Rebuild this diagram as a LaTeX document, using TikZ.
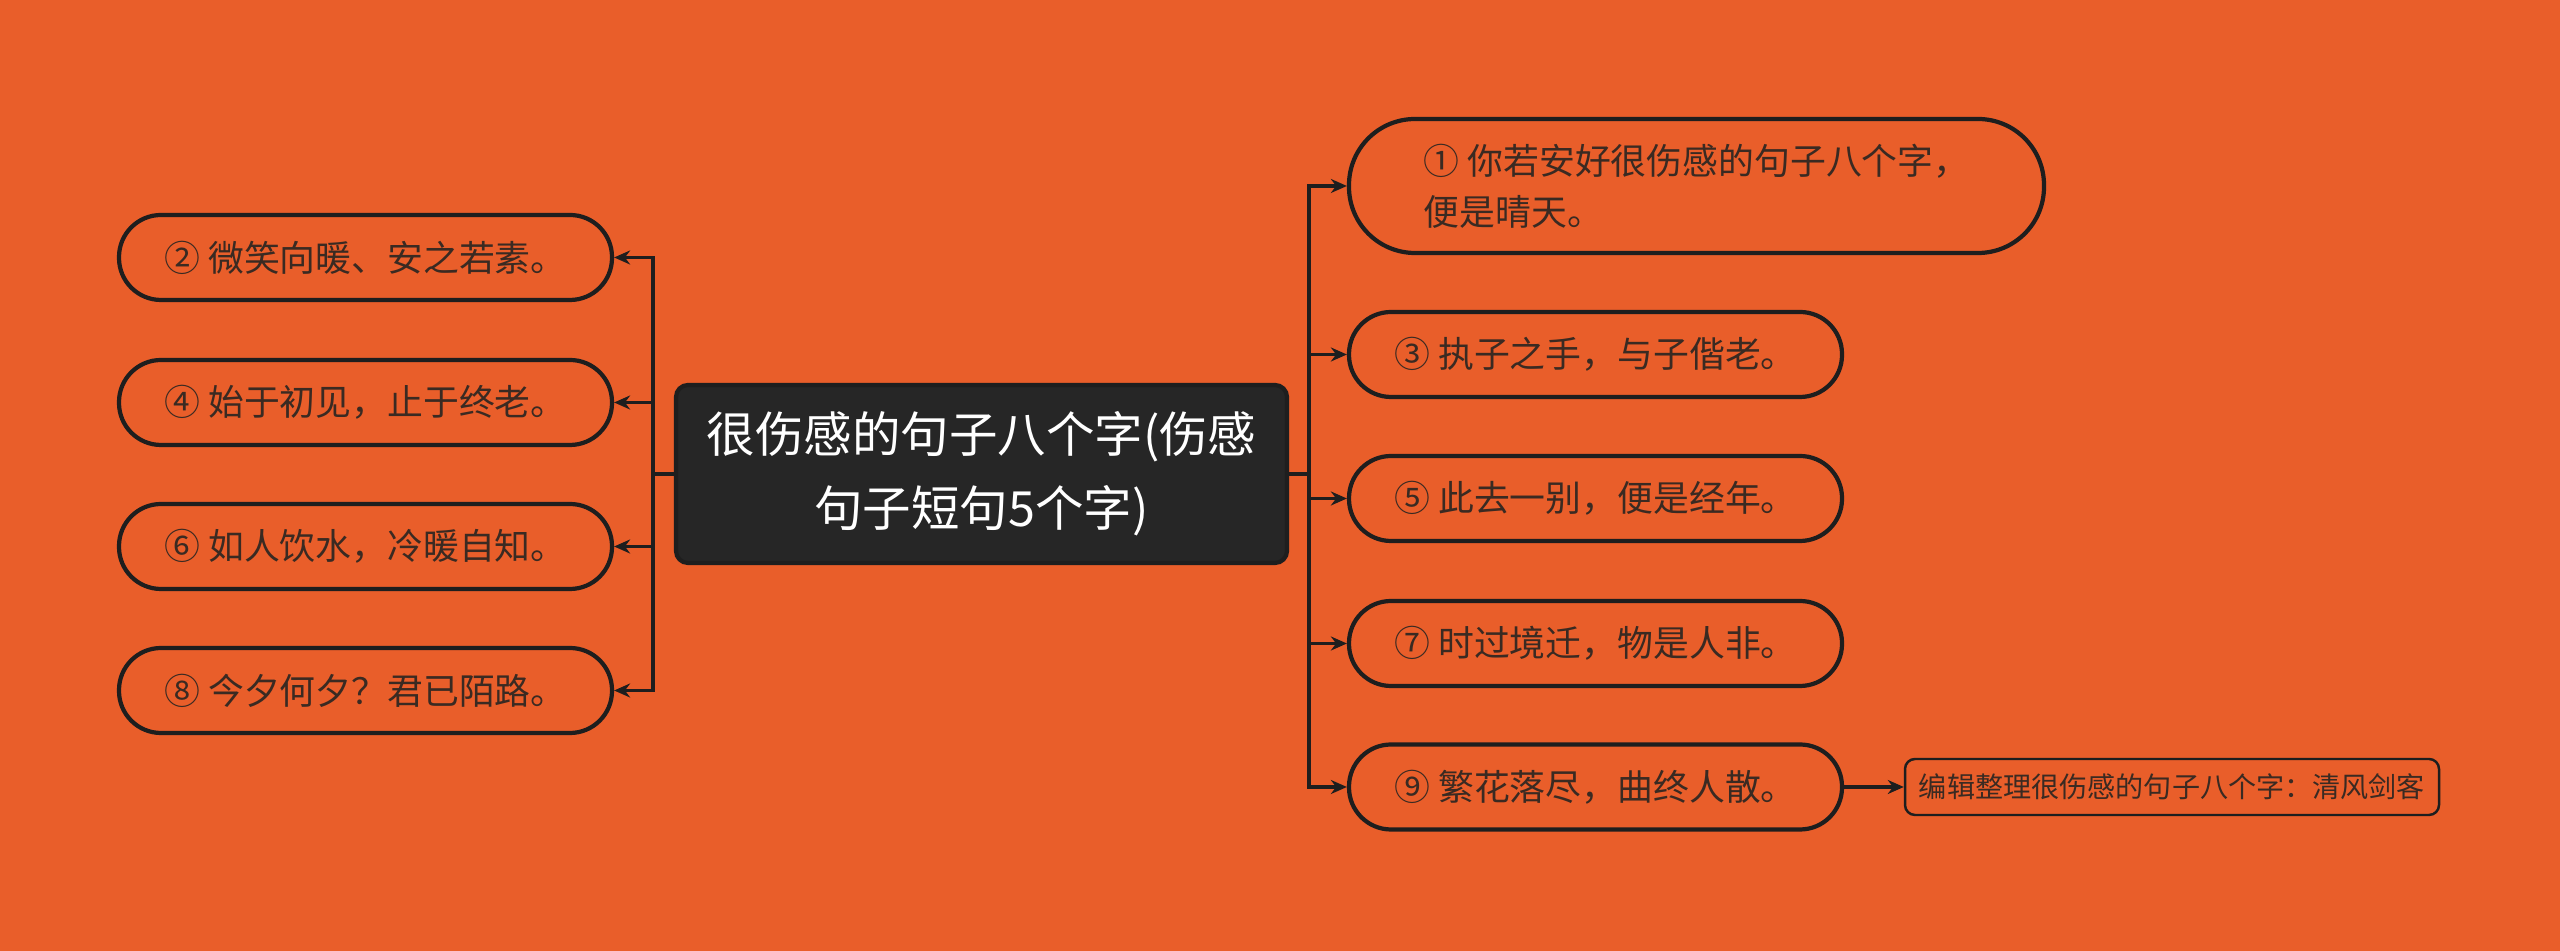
\documentclass[tikz,border=0pt]{standalone}
\usepackage{fontspec}
\newfontfamily\cjk{Noto Sans CJK SC}
\usetikzlibrary{arrows.meta}
\definecolor{bgorange}{HTML}{E95E2A}
\definecolor{rootfill}{HTML}{262626}
\definecolor{leaftext}{HTML}{3A2A22}
\definecolor{edgeline}{HTML}{1E1E1E}

\begin{document}
\begin{tikzpicture}[
  x=1cm, y=1cm,
  root/.style={rectangle, rounded corners=0.12cm, draw=edgeline, line width=1.2pt, fill=rootfill,
    text=white, font=\cjk\fontsize{13.8}{21}\selectfont, align=center,
    minimum width=6.11cm, minimum height=1.78cm, inner sep=0pt},
  leaf/.style={rectangle, rounded corners=0.42cm, draw=edgeline, line width=1.2pt,
    text=leaftext, font=\cjk\fontsize{10.2}{14.5}\selectfont, align=left,
    minimum width=4.93cm, minimum height=0.85cm, inner sep=0pt},
  note/.style={rectangle, rounded corners=0.1cm, draw=edgeline, line width=0.7pt,
    text=leaftext, font=\cjk\fontsize{8}{10}\selectfont,
    minimum width=5.34cm, minimum height=0.56cm, inner sep=0pt},
  link/.style={draw=edgeline, line width=0.9pt},
  arr/.style={link, -{Stealth[length=0.16cm, width=0.14cm]}}
]
\fill[bgorange] (0,0) rectangle (25.6,-9.51);
\useasboundingbox (0,0) rectangle (25.6,-9.51);

\node[root] (root) at (9.815,-4.74) {很伤感的句子八个字(伤感\\句子短句5个字)};

\node[leaf, minimum width=6.95cm, minimum height=1.34cm, rounded corners=0.66cm] (r1) at (16.965,-1.86)
  {① 你若安好很伤感的句子八个字，\\便是晴天。\hspace*{0.7cm}};
\node[leaf] (r3) at (15.955,-3.545) {③ 执子之手，与子偕老。};
\node[leaf] (r5) at (15.955,-4.985) {⑤ 此去一别，便是经年。};
\node[leaf] (r7) at (15.955,-6.435) {⑦ 时过境迁，物是人非。};
\node[leaf] (r9) at (15.955,-7.87) {⑨ 繁花落尽，曲终人散。};
\node[note] (tag) at (21.72,-7.87) {编辑整理很伤感的句子八个字：清风剑客};

\node[leaf] (l2) at (3.655,-2.575) {② 微笑向暖、安之若素。};
\node[leaf] (l4) at (3.655,-4.025) {④ 始于初见，止于终老。};
\node[leaf] (l6) at (3.655,-5.465) {⑥ 如人饮水，冷暖自知。};
\node[leaf] (l8) at (3.655,-6.905) {⑧ 今夕何夕？君已陌路。};

% right side
\coordinate (busR) at (13.09,-4.74);
\draw[link] (root.east) -- (busR);
\foreach \n in {r1,r3,r5,r7,r9}
  \draw[arr] (busR) |- (\n.west);
\draw[arr] (r9.east) -- (tag.west);

% left side
\coordinate (busL) at (6.53,-4.74);
\draw[link] (root.west) -- (busL);
\foreach \n in {l2,l4,l6,l8}
  \draw[arr] (busL) |- (\n.east);
\end{tikzpicture}
\end{document}
